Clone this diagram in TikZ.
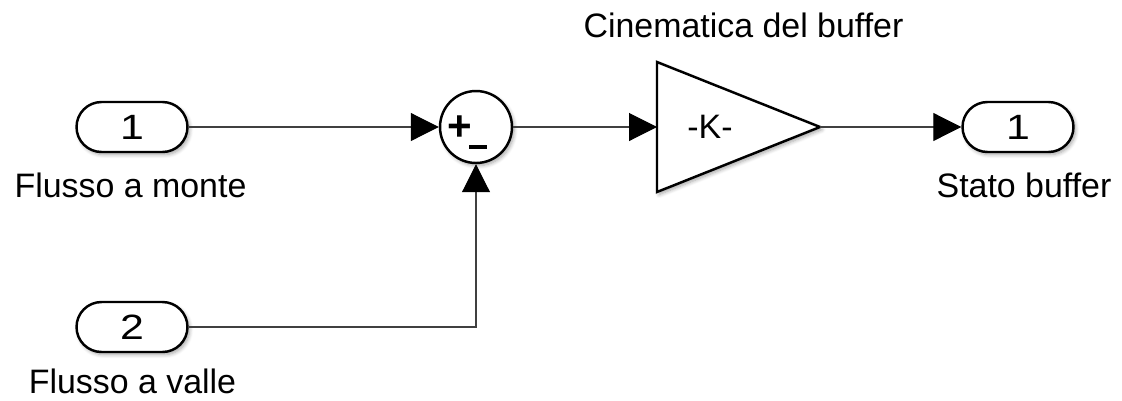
\documentclass[tikz,border=0pt]{standalone}
\usepackage{fontspec}
\setmainfont{Liberation Sans}
\newfontfamily\portfont[FakeStretch=1.22]{Liberation Sans}
\usetikzlibrary{arrows.meta,shadows.blur}

\tikzset{
  blk/.style={draw, line width=1.4pt, fill=white,
    blur shadow={shadow xshift=1.2pt, shadow yshift=-1.5pt, shadow blur steps=6, shadow opacity=35}},
  port/.style={blk, rounded corners=0.5cm, minimum width=2.22cm, minimum height=1cm,
    inner sep=0pt, font=\portfont\fontsize{20}{24}\selectfont},
  lbl/.style={anchor=base, inner sep=0pt, font=\fontsize{19.3}{23}\selectfont},
  sig/.style={line width=0.6pt, draw=black!75, -{Triangle[length=0.56cm, width=0.56cm, black]}},
}

\begin{document}
\begin{tikzpicture}[x=0.02cm, y=-0.02cm]
\useasboundingbox (0,0) rectangle (1122,400);

% ingressi e uscita
\node[port] (in1) at (132,127) {1};
\node[port] (in2) at (132,327) {2};
\node[port] (out1) at (1018,127) {1};
\node[lbl] (in1lbl) at (130.5,197) {Flusso a monte};
\node[lbl] (in2lbl) at (132.5,393) {Flusso a valle};
\node[lbl] (out1lbl) at (1024,197) {Stato buffer};

% sommatore
\node[blk, circle, minimum size=1.44cm, inner sep=0pt] (sum) at (476,127) {};
\node[inner sep=0pt, font=\fontsize{24}{28}\selectfont\bfseries] (sumplus) at (459.5,128) {+};
\node[inner sep=0pt] (summinus) at (478,147) {\rule{10.2pt}{2.2pt}};

% guadagno
\coordinate (gin) at (657,127);
\coordinate (gout) at (820,127);
\draw[blk, line join=miter] (657,62) -- (gout) -- (657,192) -- cycle;
\node[inner sep=0pt, font=\fontsize{19.3}{23}\selectfont] (gaink) at (710,127) {-K-};
\node[lbl] (gainlbl) at (743.5,37) {Cinematica del buffer};

% collegamenti
\draw[sig] (in1) -- (sum);
\draw[sig] (in2) -| (sum.south);
\draw[sig] (sum) -- (gin);
\draw[sig] (gout) -- (out1);
\end{tikzpicture}
\end{document}
